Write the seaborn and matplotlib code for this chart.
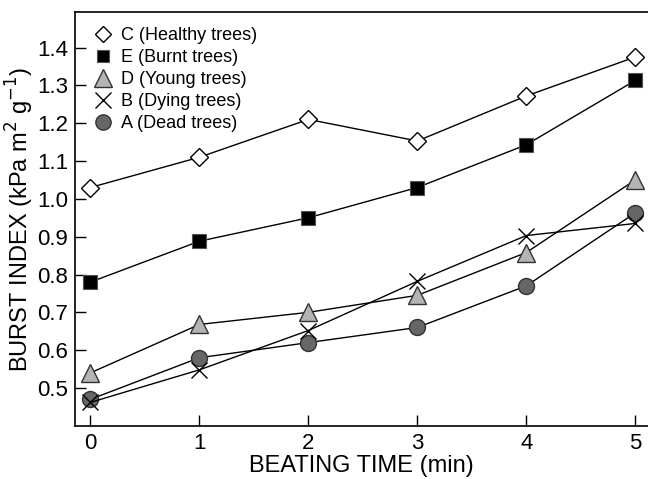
import numpy as np
import pandas as pd
import matplotlib
matplotlib.use("Agg")
import matplotlib.pyplot as plt
import seaborn as sns

# beating time (min)
minutes = [0, 1, 2, 3, 4, 5]

# burst index values
healthy_c = [1.03, 1.11, 1.21, 1.153, 1.272, 1.375]
burnt_e = [0.78, 0.888, 0.95, 1.03, 1.143, 1.313]
young_d = [0.54, 0.668, 0.70, 0.745, 0.858, 1.05]
dying_b = [0.462, 0.548, 0.652, 0.782, 0.903, 0.935]
dead_a = [0.47, 0.58, 0.62, 0.66, 0.77, 0.963]

labels = ["C (Healthy trees)", "E (Burnt trees)", "D (Young trees)",
          "B (Dying trees)", "A (Dead trees)"]
series = [healthy_c, burnt_e, young_d, dying_b, dead_a]

rows = []
for lab, vals in zip(labels, series):
    for m, v in zip(minutes, vals):
        rows.append({"time": m, "burst": v, "group": lab})
df = pd.DataFrame(rows)

sns.set_style("ticks", {"axes.edgecolor": "black", "text.color": "black",
                        "axes.labelcolor": "black", "xtick.color": "black",
                        "ytick.color": "black"})
plt.rcParams['font.family'] = ['Liberation Sans', 'DejaVu Sans']

# marker styles per group
styles = {
    "C (Healthy trees)": dict(marker="D", ms=9, mfc="white", mec="black", mew=1.0),
    "E (Burnt trees)": dict(marker="s", ms=9.5, mfc="black", mec="#555555", mew=0.8),
    "D (Young trees)": dict(marker="^", ms=13.5, mfc="#b4b4b4", mec="#333333", mew=1.0),
    "B (Dying trees)": dict(marker="x", ms=12, mfc="none", mec="black", mew=1.0),
    "A (Dead trees)": dict(marker="o", ms=11.5, mfc="#666666", mec="#333333", mew=1.0),
}

fig = plt.figure(figsize=(6.48, 4.79), dpi=100)
ax = fig.add_axes([0.116, 0.111, 0.884, 0.864])

# draw dead first so the others sit on top like the original
for lab in labels[::-1]:
    st = styles[lab]
    sub = df[df["group"] == lab]
    sns.lineplot(data=sub, x="time", y="burst", ax=ax, color="black", lw=1.0,
                 marker=st["marker"], markersize=st["ms"],
                 markerfacecolor=st["mfc"], markeredgecolor=st["mec"],
                 markeredgewidth=st["mew"], label=lab, legend=False)

ax.set_xlim(-0.14, 5.117)
ax.set_ylim(0.40, 1.494)
ax.set_xticks(minutes)
ax.set_yticks([0.5, 0.6, 0.7, 0.8, 0.9, 1.0, 1.1, 1.2, 1.3, 1.4])
ax.set_yticklabels(["0.5", "0.6", "0.7", "0.8", "0.9", "1.0", "1.1", "1.2", "1.3", "1.4"])
ax.tick_params(direction="in", length=8, width=1, labelsize=16, pad=5, colors="black")
ax.set_xlabel("BEATING TIME (min)", fontsize=17, labelpad=1, color="black")
ax.set_ylabel("BURST INDEX (kPa m$^2$ g$^{-1}$)", fontsize=17, labelpad=1, color="black")
ax.spines["right"].set_visible(False)
for s in ["top", "left", "bottom"]:
    ax.spines[s].set_linewidth(1.2)
    ax.spines[s].set_color("black")

# legend: markers only, in C E D B A order
handles = []
for lab in labels:
    st = styles[lab]
    h = plt.Line2D([], [], ls="none", marker=st["marker"],
                   markersize=st["ms"] - 0.5, markerfacecolor=st["mfc"],
                   markeredgecolor=st["mec"], markeredgewidth=st["mew"])
    handles.append(h)
leg = ax.legend(handles, labels, loc="upper left", frameon=False, fontsize=13,
                handletextpad=0.3, labelspacing=0.28, borderaxespad=0.2,
                handlelength=1.3, bbox_to_anchor=(0.01, 0.99))
for t in leg.get_texts():
    t.set_color("black")

fig.savefig("out.png", dpi=100)
